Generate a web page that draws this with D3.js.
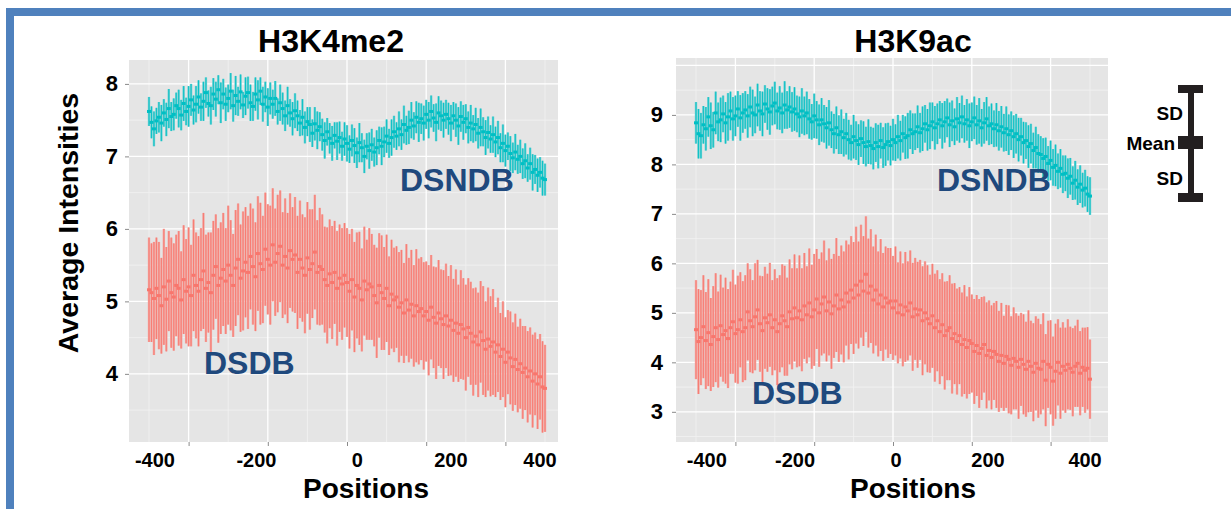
<!DOCTYPE html>
<html><head><meta charset="utf-8">
<script src="https://cdn.jsdelivr.net/npm/d3@7"></script>
<style>
body{margin:0;background:#fff}
svg{display:block}
text{font-family:"Liberation Sans",Arial,Helvetica,sans-serif;font-weight:bold}
</style>
</head><body>
<svg id="c" width="1231" height="509"></svg>
<script>
// ---------- DATA ----------
const positions = d3.range(-400, 401, 5);   // 161 positions
const xTickLabels = ["-400", "-200", "0", "200", "400"];

// H3K4me2 – DSNDB (cyan)
const h3k4DsndbMean = [
7.62,7.47,7.38,7.49,7.54,7.46,7.60,7.51,7.66,7.55,
7.58,7.70,7.66,7.57,7.73,7.62,7.69,7.78,7.64,7.72,
7.82,7.68,7.76,7.88,7.73,7.70,7.86,7.79,7.92,7.74,
7.86,7.72,7.80,7.90,7.70,7.84,7.76,7.89,7.71,7.83,
7.88,7.74,7.69,7.86,7.78,7.90,7.72,7.82,7.68,7.80,
7.72,7.80,7.62,7.74,7.66,7.56,7.70,7.60,7.52,7.63,
7.56,7.46,7.54,7.40,7.48,7.44,7.32,7.45,7.36,7.41,
7.30,7.22,7.34,7.25,7.18,7.29,7.21,7.26,7.14,7.24,
7.18,7.10,7.22,7.15,7.05,7.19,7.12,7.00,7.14,7.08,
7.16,7.06,7.12,7.22,7.14,7.20,7.28,7.18,7.26,7.34,
7.28,7.38,7.30,7.44,7.36,7.40,7.50,7.42,7.54,7.47,
7.52,7.46,7.58,7.50,7.62,7.53,7.47,7.60,7.56,7.50,
7.58,7.52,7.46,7.56,7.50,7.42,7.55,7.47,7.52,7.40,
7.46,7.38,7.44,7.32,7.40,7.34,7.26,7.33,7.24,7.30,
7.20,7.26,7.12,7.18,7.08,7.14,7.04,6.98,7.06,6.96,
7.00,6.90,6.94,6.84,6.90,6.78,6.82,6.74,6.78,6.70,6.68];
const h3k4DsndbSd = [
0.20,0.22,0.24,0.18,0.21,0.25,0.19,0.23,0.27,0.20,
0.22,0.18,0.26,0.21,0.24,0.19,0.28,0.22,0.20,0.25,
0.23,0.19,0.27,0.21,0.18,0.26,0.22,0.24,0.20,0.28,
0.21,0.23,0.19,0.25,0.22,0.27,0.20,0.24,0.18,0.26,
0.22,0.25,0.20,0.23,0.27,0.19,0.24,0.21,0.26,0.22,
0.20,0.24,0.18,0.25,0.22,0.21,0.26,0.19,0.23,0.24,
0.21,0.18,0.25,0.22,0.20,0.24,0.19,0.23,0.26,0.20,
0.22,0.25,0.19,0.21,0.24,0.18,0.26,0.22,0.20,0.23,
0.25,0.19,0.22,0.24,0.21,0.27,0.20,0.23,0.18,0.25,
0.22,0.20,0.24,0.19,0.26,0.21,0.23,0.20,0.25,0.22,
0.19,0.24,0.21,0.26,0.20,0.23,0.25,0.19,0.22,0.27,
0.21,0.24,0.20,0.25,0.22,0.19,0.26,0.23,0.21,0.24,
0.20,0.22,0.25,0.19,0.23,0.26,0.21,0.24,0.20,0.22,
0.25,0.19,0.23,0.21,0.26,0.20,0.24,0.22,0.19,0.25,
0.21,0.23,0.20,0.26,0.22,0.19,0.24,0.21,0.25,0.20,
0.23,0.21,0.24,0.19,0.22,0.25,0.20,0.23,0.21,0.24,0.22];

// H3K4me2 – DSDB (red)
const h3k4DsdbMean = [
5.16,5.12,5.04,5.18,5.08,4.94,5.20,5.03,5.28,5.12,
5.06,5.22,5.18,5.02,5.30,5.14,5.20,5.08,5.36,5.22,
5.14,5.30,5.42,5.18,5.26,5.12,5.36,5.48,5.22,5.32,
5.44,5.28,5.50,5.36,5.22,5.46,5.58,5.32,5.42,5.54,
5.40,5.62,5.48,5.34,5.66,5.52,5.44,5.72,5.58,5.50,
5.78,5.54,5.66,5.76,5.50,5.62,5.46,5.70,5.58,5.64,
5.40,5.58,5.46,5.36,5.60,5.44,5.52,5.68,5.40,5.48,
5.44,5.30,5.22,5.38,5.26,5.40,5.18,5.32,5.24,5.36,
5.26,5.14,5.30,5.06,5.22,5.18,5.02,5.28,5.16,5.24,
5.20,5.08,4.98,5.22,5.12,5.04,5.18,4.94,5.10,5.02,
5.06,4.92,4.98,4.84,5.02,4.88,4.96,4.80,4.94,4.86,
4.90,4.80,4.86,4.74,4.92,4.78,4.70,4.84,4.76,4.68,
4.80,4.66,4.74,4.60,4.70,4.56,4.68,4.62,4.50,4.64,
4.56,4.44,4.52,4.40,4.58,4.46,4.34,4.48,4.38,4.44,
4.30,4.40,4.24,4.34,4.16,4.30,4.22,4.10,4.20,4.06,
4.14,4.02,4.08,3.96,4.04,3.90,4.00,3.86,3.96,3.82,3.80];
const h3k4DsdbSd = [
0.72,0.68,0.78,0.70,0.74,0.66,0.80,0.72,0.69,0.76,
0.74,0.70,0.79,0.67,0.75,0.72,0.82,0.70,0.77,0.73,
0.76,0.71,0.80,0.74,0.69,0.83,0.75,0.72,0.79,0.77,
0.78,0.73,0.82,0.76,0.71,0.80,0.77,0.74,0.82,0.76,
0.78,0.73,0.80,0.75,0.79,0.84,0.74,0.78,0.76,0.82,
0.78,0.74,0.81,0.77,0.73,0.80,0.76,0.79,0.72,0.80,
0.78,0.81,0.74,0.80,0.77,0.83,0.75,0.79,0.72,0.81,
0.76,0.73,0.80,0.75,0.78,0.71,0.79,0.74,0.77,0.72,
0.75,0.79,0.70,0.76,0.73,0.78,0.71,0.75,0.69,0.77,
0.73,0.70,0.76,0.72,0.79,0.71,0.74,0.68,0.75,0.72,
0.70,0.76,0.73,0.69,0.77,0.72,0.75,0.70,0.78,0.73,
0.71,0.74,0.69,0.76,0.72,0.70,0.77,0.73,0.68,0.75,
0.72,0.69,0.76,0.71,0.74,0.67,0.75,0.70,0.73,0.68,
0.71,0.74,0.67,0.72,0.70,0.75,0.66,0.71,0.69,0.73,
0.62,0.65,0.60,0.66,0.62,0.58,0.64,0.61,0.63,0.59,
0.62,0.64,0.58,0.63,0.60,0.64,0.57,0.62,0.59,0.63,0.60];

// H3K9ac – DSNDB (cyan)
const h3k9DsndbMean = [
8.84,8.62,8.58,8.80,8.72,8.96,8.78,8.70,9.04,8.86,
8.90,9.02,8.84,8.96,9.08,8.92,8.98,9.12,8.94,9.04,
9.10,8.98,9.16,9.04,9.00,9.20,9.08,9.02,9.22,9.12,
9.06,9.18,9.24,9.08,9.14,9.04,9.20,9.10,9.16,9.06,
9.12,9.02,8.96,9.08,8.98,9.04,8.92,8.86,8.98,8.90,
8.80,8.90,8.82,8.74,8.84,8.70,8.62,8.74,8.60,8.66,
8.54,8.62,8.50,8.44,8.56,8.48,8.40,8.52,8.44,8.36,
8.46,8.38,8.32,8.44,8.36,8.48,8.34,8.40,8.46,8.38,
8.50,8.44,8.56,8.48,8.62,8.54,8.58,8.70,8.62,8.66,
8.76,8.64,8.72,8.82,8.70,8.78,8.86,8.74,8.82,8.90,
8.78,8.86,8.94,8.80,8.88,8.76,8.92,8.84,8.96,8.82,
8.90,8.78,8.86,8.94,8.80,8.88,8.74,8.84,8.92,8.78,
8.82,8.72,8.80,8.68,8.76,8.64,8.72,8.60,8.68,8.56,
8.62,8.50,8.56,8.44,8.48,8.36,8.42,8.28,8.34,8.22,
8.20,8.12,8.16,8.02,8.08,7.94,7.98,7.86,7.92,7.80,
7.82,7.72,7.76,7.62,7.68,7.54,7.60,7.48,7.52,7.40,7.36];
const h3k9DsndbSd = [
0.42,0.50,0.46,0.38,0.44,0.40,0.47,0.36,0.43,0.39,
0.45,0.37,0.42,0.48,0.39,0.44,0.41,0.36,0.46,0.40,
0.38,0.44,0.41,0.47,0.37,0.43,0.40,0.45,0.38,0.42,
0.46,0.39,0.43,0.37,0.44,0.41,0.48,0.38,0.42,0.40,
0.44,0.37,0.41,0.46,0.39,0.43,0.40,0.36,0.45,0.38,
0.41,0.44,0.38,0.42,0.46,0.37,0.40,0.43,0.39,0.45,
0.38,0.42,0.40,0.36,0.44,0.39,0.41,0.37,0.43,0.40,
0.45,0.38,0.42,0.39,0.44,0.36,0.41,0.43,0.38,0.40,
0.42,0.37,0.44,0.40,0.38,0.43,0.46,0.39,0.41,0.37,
0.43,0.40,0.45,0.38,0.42,0.47,0.39,0.44,0.41,0.38,
0.46,0.42,0.39,0.45,0.41,0.37,0.44,0.40,0.43,0.38,
0.42,0.45,0.39,0.43,0.40,0.46,0.38,0.42,0.44,0.39,
0.41,0.37,0.44,0.40,0.42,0.38,0.45,0.41,0.39,0.43,
0.40,0.44,0.38,0.42,0.37,0.43,0.40,0.36,0.42,0.39,
0.37,0.41,0.38,0.35,0.40,0.37,0.42,0.36,0.39,0.38,
0.36,0.40,0.37,0.34,0.39,0.36,0.38,0.35,0.37,0.36,0.38];

// H3K9ac – DSDB (red)
const h3k9DsdbMean = [
4.66,4.42,4.50,4.72,4.44,4.60,4.36,4.52,4.70,4.46,
4.74,4.56,4.64,4.48,4.70,4.82,4.58,4.66,4.86,4.62,
4.70,5.02,4.84,4.72,4.92,5.06,4.78,4.64,4.90,4.80,
4.96,4.70,4.86,4.62,4.78,4.94,4.84,4.72,5.02,4.88,
5.10,4.90,5.04,4.86,5.14,4.96,5.20,4.92,5.06,5.28,
5.00,5.18,5.32,5.04,5.22,4.98,5.14,5.36,5.08,5.26,
5.12,5.40,5.22,5.46,5.30,5.56,5.36,5.64,5.44,5.78,
5.40,5.54,5.26,5.46,5.18,5.36,5.12,5.30,5.20,5.24,
5.10,5.24,5.00,5.16,4.96,5.12,5.04,5.20,4.92,5.08,
4.96,5.06,4.84,5.00,4.88,4.78,4.94,4.70,4.84,4.62,
4.76,4.54,4.64,4.70,4.48,4.58,4.42,4.54,4.36,4.46,
4.30,4.44,4.38,4.22,4.34,4.18,4.28,4.36,4.14,4.24,
4.10,4.22,4.16,4.02,4.14,3.98,4.12,4.06,3.94,4.08,
4.02,3.90,4.06,3.96,3.86,4.02,3.92,3.80,3.98,3.88,
3.86,4.02,3.64,3.96,3.90,3.62,3.82,4.00,3.78,3.92,
3.84,3.96,3.88,3.80,3.92,3.98,3.78,3.90,3.84,3.88,3.66];
const h3k9DsdbSd = [
1.00,1.06,0.96,1.04,0.98,1.08,0.94,1.02,1.10,0.97,
1.03,0.95,1.07,1.00,0.93,1.05,0.99,1.09,0.96,1.02,
1.06,0.98,1.04,0.94,1.08,1.01,0.97,1.10,1.03,0.99,
1.05,0.96,1.02,1.08,0.98,1.04,1.11,0.99,1.06,1.02,
1.08,1.00,1.12,1.04,1.07,0.98,1.10,1.05,1.13,1.01,
1.09,1.04,1.14,1.02,1.08,1.11,1.05,1.15,1.07,1.10,
1.12,1.06,1.16,1.09,1.13,1.18,1.08,1.14,1.11,1.17,
1.10,1.15,1.08,1.12,1.06,1.13,1.09,1.04,1.11,1.07,
1.05,1.10,1.02,1.08,1.04,1.11,1.00,1.06,1.09,1.03,
1.07,1.01,1.10,1.04,1.08,0.99,1.05,1.09,1.02,1.06,
1.04,1.09,1.00,1.06,1.11,1.02,1.07,0.98,1.05,1.10,
1.03,1.08,0.99,1.06,1.02,1.10,1.04,0.97,1.07,1.01,
1.05,0.98,1.08,1.02,1.06,0.96,1.04,1.09,0.99,1.03,
0.97,1.04,0.94,1.01,0.96,1.03,0.92,0.99,0.95,1.00,
0.91,0.97,0.93,0.88,0.95,0.90,0.96,0.87,0.92,0.89,
0.86,0.91,0.84,0.89,0.82,0.88,0.85,0.80,0.86,0.83,0.80];

// ---------- LAYOUT ----------
const COLORS = {DSDB: "#F8766D", DSNDB: "#00BFC4"};
const LIGHT = {DSDB: "#F2A7A1", DSNDB: "#70D1D3"};
const svg = d3.select("#c");

// blue frame
svg.append("rect").attr("x", 6).attr("y", 8).attr("width", 1225).attr("height", 8).attr("fill", "#4F81BD");
svg.append("rect").attr("x", 6).attr("y", 8).attr("width", 8).attr("height", 501).attr("fill", "#4F81BD");

const panels = [
  {title: "H3K4me2", titleX: 331, left: 129, right: 558, top: 60, bottom: 442,
   xr: [149, 545], yd: [3.06, 8.33], yMajor: [4,5,6,7,8], yLabels: [4,5,6,7,8],
   yMinor: [3.5,4.5,5.5,6.5,7.5], yPad: 7,
   xLabelPos: [-388, -183, 21, 210, 390], posX: 366,
   series: [
     {name: "DSDB", mean: h3k4DsdbMean, sd: h3k4DsdbSd, lx: 204, ly: 374},
     {name: "DSNDB", mean: h3k4DsndbMean, sd: h3k4DsndbSd, lx: 400, ly: 191}
   ]},
  {title: "H3K9ac", titleX: 913, left: 676, right: 1108, top: 58, bottom: 442,
   xr: [696, 1090], yd: [2.39, 10.15], yMajor: [3,4,5,6,7,8,9,10], yLabels: [3,4,5,6,7,8,9],
   yMinor: [2.5,3.5,4.5,5.5,6.5,7.5,8.5,9.5], yPad: 9,
   xLabelPos: [-378, -199, 6, 193, 390], posX: 913,
   series: [
     {name: "DSDB", mean: h3k9DsdbMean, sd: h3k9DsdbSd, lx: 752, ly: 404},
     {name: "DSNDB", mean: h3k9DsndbMean, sd: h3k9DsndbSd, lx: 937, ly: 191}
   ]}
];

const xMajor = [-320, -160, 0, 160, 320];
const xMinor = [-400, -240, -80, 80, 240, 400];

panels.forEach(p => {
  const g = svg.append("g");
  const x = d3.scaleLinear().domain([-400, 400]).range(p.xr);
  const y = d3.scaleLinear().domain(p.yd).range([p.bottom, p.top]);

  g.append("rect").attr("x", p.left).attr("y", p.top)
    .attr("width", p.right - p.left).attr("height", p.bottom - p.top).attr("fill", "#E5E5E5");

  // minor grid
  g.selectAll(".vmin").data(xMinor).join("line")
    .attr("x1", d => x(d)).attr("x2", d => x(d)).attr("y1", p.top).attr("y2", p.bottom)
    .attr("stroke", "#F2F2F2").attr("stroke-width", 0.8);
  g.selectAll(".hmin").data(p.yMinor).join("line")
    .attr("x1", p.left).attr("x2", p.right).attr("y1", d => y(d)).attr("y2", d => y(d))
    .attr("stroke", "#F2F2F2").attr("stroke-width", 0.8);
  // major grid
  g.selectAll(".vmaj").data(xMajor).join("line")
    .attr("x1", d => x(d)).attr("x2", d => x(d)).attr("y1", p.top).attr("y2", p.bottom)
    .attr("stroke", "#FFFFFF").attr("stroke-width", 1.3);
  g.selectAll(".hmaj").data(p.yMajor).join("line")
    .attr("x1", p.left).attr("x2", p.right).attr("y1", d => y(d)).attr("y2", d => y(d))
    .attr("stroke", "#FFFFFF").attr("stroke-width", 1.3);

  // series: error bars and means
  p.series.forEach(s => {
    const data = positions.map((pos, i) => ({pos, m: s.mean[i], sd: s.sd[i]}));
    const col = COLORS[s.name];
    g.append("g").selectAll("line").data(data).join("line")
      .attr("x1", d => x(d.pos)).attr("x2", d => x(d.pos))
      .attr("y1", d => y(d.m + d.sd)).attr("y2", d => y(d.m - d.sd))
      .attr("stroke", LIGHT[s.name]).attr("stroke-width", 2.4);
    g.append("g").selectAll("line").data(data).join("line")
      .attr("x1", d => x(d.pos)).attr("x2", d => x(d.pos))
      .attr("y1", d => y(d.m + d.sd)).attr("y2", d => y(d.m - d.sd))
      .attr("stroke", col).attr("stroke-width", 0.9);
    g.append("g").selectAll("rect").data(data).join("rect")
      .attr("x", d => x(d.pos) - 2).attr("y", d => y(d.m) - 1.5)
      .attr("width", 4).attr("height", 3).attr("fill", col);
    g.append("text").attr("x", s.lx).attr("y", s.ly).attr("font-size", 32)
      .attr("fill", "#1F497D").text(s.name);
  });

  // axes ticks
  const xa = g.append("g").attr("transform", `translate(0,${p.bottom})`)
    .call(d3.axisBottom(x).tickValues(xMajor).tickSize(4).tickFormat(""));
  xa.select(".domain").remove();
  xa.selectAll("line").attr("stroke", "#8A8A8A");

  const ya = g.append("g").attr("transform", `translate(${p.left},0)`)
    .call(d3.axisLeft(y).tickValues(p.yLabels).tickSize(4).tickPadding(p.yPad).tickFormat(d3.format("d")));
  ya.select(".domain").remove();
  ya.selectAll("line").attr("stroke", "#8A8A8A");
  ya.selectAll("text").attr("font-size", 22).attr("fill", "#000")
    .style("font-family", '"Liberation Sans",Arial,sans-serif').style("font-weight", "bold");

  // x tick labels
  g.selectAll(".xl").data(xTickLabels).join("text")
    .attr("x", (d, i) => x(p.xLabelPos[i])).attr("y", 467)
    .attr("text-anchor", "middle").attr("font-size", 20).attr("fill", "#000").text(d => d);

  // axis title
  g.append("text").attr("x", p.posX).attr("y", 498).attr("text-anchor", "middle")
    .attr("font-size", 28).attr("fill", "#000").text("Positions");

  // panel title
  g.append("text").attr("x", p.titleX).attr("y", 52).attr("text-anchor", "middle")
    .attr("font-size", 32).attr("fill", "#000").text(p.title);
});

// y axis title
svg.append("text").attr("transform", "translate(78,223) rotate(-90)")
  .attr("text-anchor", "middle").attr("font-size", 28.5).attr("fill", "#000").text("Average Intensities");

// legend (SD / Mean / SD)
const lg = svg.append("g").attr("fill", "#231F20");
lg.append("rect").attr("x", 1178).attr("y", 85).attr("width", 25).attr("height", 8);
lg.append("rect").attr("x", 1188).attr("y", 85).attr("width", 6).attr("height", 117);
lg.append("rect").attr("x", 1178).attr("y", 136).attr("width", 25).attr("height", 13);
lg.append("rect").attr("x", 1178).attr("y", 193).attr("width", 25).attr("height", 9);
const legendText = [["SD", 1183, 120], ["Mean", 1175, 150], ["SD", 1183, 185]];
lg.selectAll("text").data(legendText).join("text")
  .attr("x", d => d[1]).attr("y", d => d[2]).attr("text-anchor", "end")
  .attr("font-size", 19).attr("fill", "#000").text(d => d[0]);
</script>
</body></html>
